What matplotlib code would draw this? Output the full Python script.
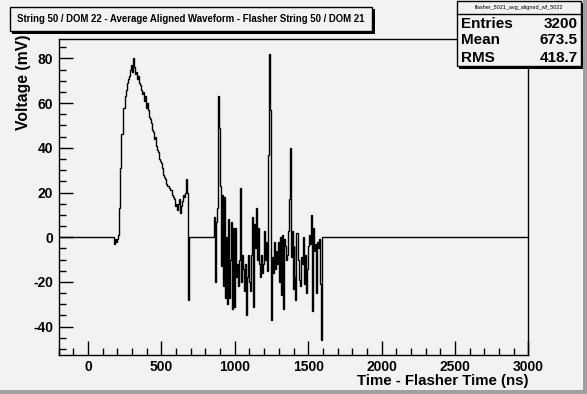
import numpy as np
import matplotlib
matplotlib.use("Agg")
import matplotlib.pyplot as plt
from matplotlib.patches import Rectangle
from matplotlib.ticker import MultipleLocator

plt.rcParams["axes.unicode_minus"] = False

# histogram binning (~6.8 ns per bin)
t_min, t_max = -200, 3000
n_bins = 470
pulse_first_bin = 55
noise_first_bin = 155

# flasher pulse (mV), one value per bin
pulse_mv = [-3, -1, -2, -1, 1,
            13, 31, 46, 46, 58, 58, 63, 66, 69, 71, 72, 75, 77, 74, 80,
            76, 73, 74, 71, 72, 69, 68, 66, 64, 65, 61, 63, 58, 60, 57,
            54, 53, 51, 48, 47, 44, 45, 41, 39, 38, 35, 34, 33, 31, 28,
            27, 26, 24, 23, 23, 22, 21, 21, 19, 18, 17, 14, 15, 12, 15,
            17, 11, 14, 16, 19, 18, 20, 26, 20, -28]

# noisy late part (mV)
noise_mv = [9, -20, 7, 13, 63, 49, 23, -13, 19, -22, 18, -27, 0, -30, 8,
            -27, -10, 7, -32, 4, -31, 4, -18, -12, -22, -10, 22, -20, -8, -14,
            -24, -12, -35, -18, -8, -20,
            -24, -8, 9, -31, 6, -5, 13, -10, 4, -12, -18, -8, -16, -12, 3,
            -10, -2, -15, 37, 82, 57, -37, -9, -16, -2, -14, -6, -12, -2, -20,
            0, -26, 1, -32, -1, -4, -10, -8, 3,
            17, 40, -9, 3, -23, -4, -18, -28, 2, 2, -10, -19, -22, -9, -12,
            0, -21, -8, -25, -14, -4, 1, -3, 10, -33, 4, -6, -3, -25, -2,
            -5, -1, -21, -46]

title = "String 50 / DOM 22 - Average Aligned Waveform - Flasher String 50 / DOM 21"
hist_name = "flasher_5021_avg_aligned_wf_5022"
stats_names = ["Entries", "Mean", "RMS"]
stats_values = ["3200", "673.5", "418.7"]

bg = "#f2f2f2"
font = "Liberation Sans"

values = np.zeros(n_bins)
values[pulse_first_bin:pulse_first_bin + len(pulse_mv)] = pulse_mv
values[noise_first_bin:noise_first_bin + len(noise_mv)] = noise_mv
edges = np.linspace(t_min, t_max, n_bins + 1)

fig = plt.figure(figsize=(5.87, 3.94), dpi=100, facecolor=bg)
ax = fig.add_axes([0.1, 0.1, 0.8, 0.8], facecolor=bg)

ax.stairs(values, edges, color="black", lw=1.0, baseline=None)

ax.set_xlim(t_min, t_max)
ax.set_ylim(-52.5, 88.5)
ax.xaxis.set_major_locator(MultipleLocator(500))
ax.xaxis.set_minor_locator(MultipleLocator(100))
ax.yaxis.set_major_locator(MultipleLocator(20))
ax.yaxis.set_minor_locator(MultipleLocator(5))
ax.tick_params(which="both", direction="in", top=False, right=False, width=1)
ax.tick_params(which="major", length=10, labelsize=10, pad=4)
ax.tick_params(which="minor", length=5)
for lab in ax.get_xticklabels() + ax.get_yticklabels():
    lab.set_fontweight("bold")
    lab.set_family(font)
for sp in ax.spines.values():
    sp.set_linewidth(1)

ax.set_xlabel("Time - Flasher Time (ns)", loc="right", fontsize=10.8,
              fontweight="bold", family=font)
ax.xaxis.set_label_coords(1.0, -0.06)
ax.set_ylabel("Voltage (mV)", loc="top", fontsize=11.3,
              fontweight="bold", family=font)
ax.yaxis.set_label_coords(-0.06, 1.015)

W, H = 587, 394


def px_box(x0, y0, x1, y1, **kw):
    # rectangle given in picture pixels (y from top)
    r = Rectangle((x0 / W, 1 - y1 / H), (x1 - x0) / W, (y1 - y0) / H,
                  transform=fig.transFigure, **kw)
    fig.add_artist(r)


# title pave with shadow
px_box(12, 9, 375, 34, facecolor="black", edgecolor="none")
px_box(10, 7, 372, 31, facecolor=bg, edgecolor="black", lw=1)
fig.text(191 / W, 1 - 19.5 / H, title, ha="center", va="center",
         fontsize=6.9, fontweight="bold", family=font)

# stats box with shadow
px_box(459, 3, 584, 69, facecolor="black", edgecolor="none")
px_box(457, 1, 581, 66, facecolor=bg, edgecolor="black", lw=1)
fig.add_artist(plt.Line2D([457 / W, 581 / W], [1 - 14 / H, 1 - 14 / H],
                          transform=fig.transFigure, color="black", lw=1))
fig.text(519 / W, 1 - 7.5 / H, hist_name, ha="center", va="center",
         fontsize=4, family=font)
for i, (name, val) in enumerate(zip(stats_names, stats_values)):
    y = 1 - (23.5 + 17 * i) / H
    fig.text(461 / W, y, name, ha="left", va="center", fontsize=11,
             fontweight="bold", family=font)
    fig.text(578 / W, y, val, ha="right", va="center", fontsize=11,
             fontweight="bold", family=font)

# canvas bevel on right and bottom
px_box(583, 0, 587, 394, facecolor="#a0a0a0", edgecolor="none")
px_box(0, 390, 587, 394, facecolor="#a0a0a0", edgecolor="none")

fig.savefig("out.png", dpi=100, facecolor=bg)
